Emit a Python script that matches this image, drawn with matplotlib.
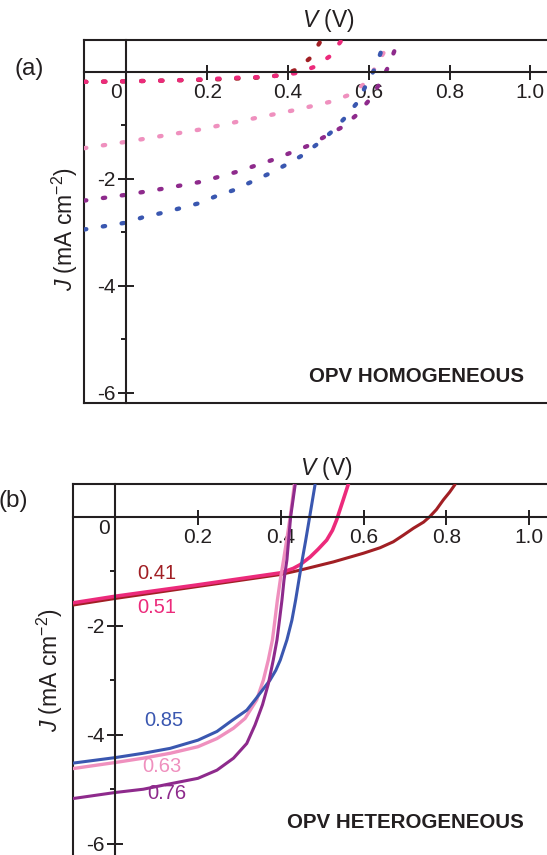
import matplotlib
matplotlib.use('Agg')
import matplotlib.pyplot as plt
from matplotlib.ticker import FixedLocator

plt.rcParams['font.family'] = ['Liberation Sans', 'DejaVu Sans']
plt.rcParams['axes.unicode_minus'] = False
plt.rcParams['mathtext.fontset'] = 'custom'
plt.rcParams['mathtext.rm'] = 'Liberation Sans'
plt.rcParams['mathtext.it'] = 'Liberation Sans:italic'
plt.rcParams['mathtext.bf'] = 'Liberation Sans:bold'
plt.rcParams['lines.scale_dashes'] = False

# ---------------- data: panel (a) OPV homogeneous (dotted) ----------------
a_red_v = [-0.105, 0.0, 0.1, 0.2, 0.3, 0.35, 0.39, 0.421, 0.454, 0.479, 0.482]
a_red_j = [-0.19, -0.18, -0.165, -0.15, -0.12, -0.10, -0.05, 0.04, 0.25, 0.55, 0.60]

a_pink_v = [-0.105, 0.0, 0.1, 0.2, 0.281, 0.329, 0.376, 0.425, 0.465, 0.502, 0.531, 0.534]
a_pink_j = [-0.19, -0.18, -0.165, -0.14, -0.11, -0.10, -0.075, -0.02, 0.09, 0.28, 0.57, 0.60]

a_lpink_v = [-0.105, 0.0, 0.088, 0.183, 0.278, 0.369, 0.415, 0.461, 0.506, 0.549, 0.585, 0.61, 0.637]
a_lpink_j = [-1.43, -1.31, -1.20, -1.08, -0.93, -0.79, -0.72, -0.64, -0.56, -0.44, -0.25, 0.0, 0.36]

a_purple_v = [-0.105, 0.0, 0.088, 0.183, 0.274, 0.365, 0.451, 0.533, 0.568, 0.60, 0.627, 0.648, 0.666, 0.675]
a_purple_j = [-2.41, -2.30, -2.19, -2.06, -1.87, -1.64, -1.38, -1.04, -0.82, -0.54, -0.22, 0.09, 0.44, 0.60]

a_blue_v = [-0.105, 0.0, 0.041, 0.088, 0.134, 0.179, 0.224, 0.267, 0.309, 0.352, 0.395,
            0.434, 0.473, 0.507, 0.54, 0.57, 0.592, 0.615, 0.632, 0.64]
a_blue_j = [-2.95, -2.82, -2.72, -2.64, -2.55, -2.46, -2.32, -2.21, -2.06, -1.91, -1.74,
            -1.57, -1.35, -1.13, -0.87, -0.59, -0.27, 0.06, 0.41, 0.60]

# ---------------- data: panel (b) OPV heterogeneous (solid) ----------------
b_red_v = [-0.101, 0.0, 0.1, 0.2, 0.3, 0.4, 0.447, 0.527, 0.6, 0.64, 0.672, 0.696, 0.721,
           0.745, 0.76, 0.776, 0.793, 0.808, 0.821]
b_red_j = [-1.62, -1.50, -1.39, -1.28, -1.17, -1.06, -0.98, -0.83, -0.67, -0.57, -0.46, -0.34, -0.21,
           -0.10, 0.0, 0.13, 0.31, 0.45, 0.59]

b_pink_v = [-0.101, 0.0, 0.1, 0.2, 0.3, 0.4, 0.43, 0.447, 0.471, 0.49, 0.511, 0.525, 0.535, 0.551, 0.563]
b_pink_j = [-1.58, -1.46, -1.355, -1.25, -1.14, -1.03, -0.95, -0.88, -0.74, -0.60, -0.43, -0.25, -0.06, 0.31, 0.59]

b_blue_v = [-0.101, 0.0, 0.068, 0.133, 0.2, 0.246, 0.282, 0.318, 0.338, 0.356, 0.374, 0.388, 0.399,
            0.415, 0.427, 0.436, 0.444, 0.452, 0.460, 0.470, 0.483]
b_blue_j = [-4.52, -4.42, -4.34, -4.25, -4.10, -3.94, -3.74, -3.55, -3.36, -3.18, -3.00, -2.82, -2.63,
            -2.26, -1.90, -1.53, -1.16, -0.79, -0.45, 0.0, 0.59]

b_lpink_v = [-0.101, 0.0, 0.068, 0.133, 0.2, 0.246, 0.286, 0.314, 0.342, 0.358, 0.370, 0.380, 0.386,
             0.392, 0.399, 0.407, 0.415, 0.423, 0.433]
b_lpink_j = [-4.62, -4.51, -4.43, -4.34, -4.22, -4.07, -3.88, -3.70, -3.36, -3.00, -2.63, -2.26, -1.90,
             -1.53, -1.16, -0.79, -0.40, 0.0, 0.59]

b_purple_v = [-0.101, 0.0, 0.068, 0.133, 0.2, 0.246, 0.286, 0.318, 0.338, 0.356, 0.370, 0.382, 0.391,
              0.397, 0.403, 0.408, 0.415, 0.424, 0.435]
b_purple_j = [-5.17, -5.06, -5.00, -4.90, -4.80, -4.65, -4.43, -4.16, -3.82, -3.45, -3.07, -2.63, -2.26,
              -1.90, -1.53, -1.16, -0.79, 0.0, 0.59]

b_labels = ['0.41', '0.51', '0.85', '0.63', '0.76']

x_ticks = [0.2, 0.4, 0.6, 0.8, 1.0]
x_ticklabels = ['0.2', '0.4', '0.6', '0.8', '1.0']
y_ticks = [-2, -4, -6]
y_ticklabels = ['-2', '-4', '-6']
y_minor = [-1, -3, -5]

C_RED = '#a11f24'
C_PINK = '#ec2a7b'
C_LPINK = '#ef90be'
C_PURPLE = '#8e2a8c'
C_BLUE = '#3a57b0'
C_TXT = '#231f20'

W, H = 547, 855
fig = plt.figure(figsize=(W / 100, H / 100), dpi=100)


def rect(left_px, top_px, right_px, bottom_px):
    return [left_px / W, 1 - bottom_px / H, (right_px - left_px) / W, (bottom_px - top_px) / H]


def make_panel(r, xlim, ylim, xpad):
    axf = fig.add_axes(r)
    axf.set_xlim(xlim)
    axf.set_ylim(ylim)
    axf.set_xticks([])
    axf.set_yticks([])
    for s in axf.spines.values():
        s.set_linewidth(1.5)
        s.set_color(C_TXT)
    ax = fig.add_axes(r)
    ax.set_xlim(xlim)
    ax.set_ylim(ylim)
    ax.patch.set_visible(False)
    ax.spines['left'].set_position(('data', 0))
    ax.spines['bottom'].set_position(('data', 0))
    ax.spines['top'].set_visible(False)
    ax.spines['right'].set_visible(False)
    for k in ('left', 'bottom'):
        ax.spines[k].set_linewidth(1.5)
        ax.spines[k].set_color(C_TXT)
    ax.set_xticks(x_ticks)
    ax.set_xticklabels(x_ticklabels)
    ax.set_yticks(y_ticks)
    ax.set_yticklabels(y_ticklabels)
    ax.yaxis.set_minor_locator(FixedLocator(y_minor))
    ax.tick_params(axis='x', which='major', direction='inout', length=10.8, width=1.4,
                   pad=xpad, labelsize=15, colors=C_TXT)
    ax.tick_params(axis='y', which='major', direction='inout', length=11.5, width=1.4,
                   pad=2, labelsize=15, colors=C_TXT)
    ax.tick_params(axis='y', which='minor', direction='out', length=3.8, width=1.4, colors=C_TXT)
    return ax


# ---------------- panel (a) ----------------
ra = rect(84, 40, 84 + 1.205 * 404, 403.3)
axa = make_panel(ra, (-0.105, 1.10), (-6.198, 0.5925), xpad=2.5)
dot_kw = dict(lw=3.1, dashes=(1.7, 12.0), dash_capstyle='round', solid_capstyle='round')
axa.plot(a_red_v, a_red_j, color=C_RED, **dot_kw)
axa.plot(a_pink_v, a_pink_j, color=C_PINK, **dot_kw)
axa.plot(a_lpink_v, a_lpink_j, color=C_LPINK, **dot_kw)
axa.plot(a_blue_v, a_blue_j, color=C_BLUE, **dot_kw)
axa.plot(a_purple_v, a_purple_j, color=C_PURPLE, **dot_kw)
axa.annotate('0', xy=(0, 0), xytext=(-3.5, -8.0), textcoords='offset points',
             ha='right', va='top', fontsize=15, color=C_TXT)
fig.text(524 / W, 1 - 376 / H, 'OPV HOMOGENEOUS', ha='right', va='center',
         fontsize=14.8, fontweight='bold', color=C_TXT)
fig.text(328 / W, 1 - 21 / H, r'$\mathit{V}$ (V)', ha='center', va='center',
         fontsize=16.5, color=C_TXT)
fig.text(65.4 / W, 1 - 229 / H, r'$\mathit{J}$ (mA cm$^{-2}$)', ha='center', va='center',
         rotation=90, fontsize=16.5, color=C_TXT)
fig.text(29 / W, 1 - 69 / H, '(a)', ha='center', va='center', fontsize=17.5, color=C_TXT)

# ---------------- panel (b) ----------------
rb = rect(73.3, 484.3, 73.3 + 1.201 * 414, 860.1)
axb = make_panel(rb, (-0.101, 1.10), (-6.30, 0.594), xpad=2.5)
sol_kw = dict(lw=2.2, solid_capstyle='round', solid_joinstyle='round')
axb.plot(b_red_v, b_red_j, color=C_RED, **sol_kw)
axb.plot(b_pink_v, b_pink_j, color=C_PINK, lw=2.6, solid_joinstyle='round')
axb.plot(b_lpink_v, b_lpink_j, color=C_LPINK, lw=2.4, solid_joinstyle='round')
axb.plot(b_blue_v, b_blue_j, color=C_BLUE, **sol_kw)
axb.plot(b_purple_v, b_purple_j, color=C_PURPLE, **sol_kw)
axb.annotate('0', xy=(0, 0), xytext=(-4, -1.5), textcoords='offset points',
             ha='right', va='top', fontsize=15, color=C_TXT)
label_pos = [(0.0524, -1.04), (0.0524, -1.67), (0.0708, -3.73), (0.0645, -4.59), (0.078, -5.08)]
label_col = [C_RED, C_PINK, C_BLUE, C_LPINK, C_PURPLE]
for txt, (lx, ly), c in zip(b_labels, label_pos, label_col):
    axb.text(lx, ly, txt, ha='left', va='center', fontsize=14.5, color=c)
fig.text(524 / W, 1 - 822.5 / H, 'OPV HETEROGENEOUS', ha='right', va='center',
         fontsize=14.8, fontweight='bold', color=C_TXT)
fig.text(326 / W, 1 - 468 / H, r'$\mathit{V}$ (V)', ha='center', va='center',
         fontsize=16.5, color=C_TXT)
fig.text(50 / W, 1 - 670 / H, r'$\mathit{J}$ (mA cm$^{-2}$)', ha='center', va='center',
         rotation=90, fontsize=16.5, color=C_TXT)
fig.text(13.6 / W, 1 - 501 / H, '(b)', ha='center', va='center', fontsize=17.5, color=C_TXT)

fig.savefig('out.png', dpi=100)
